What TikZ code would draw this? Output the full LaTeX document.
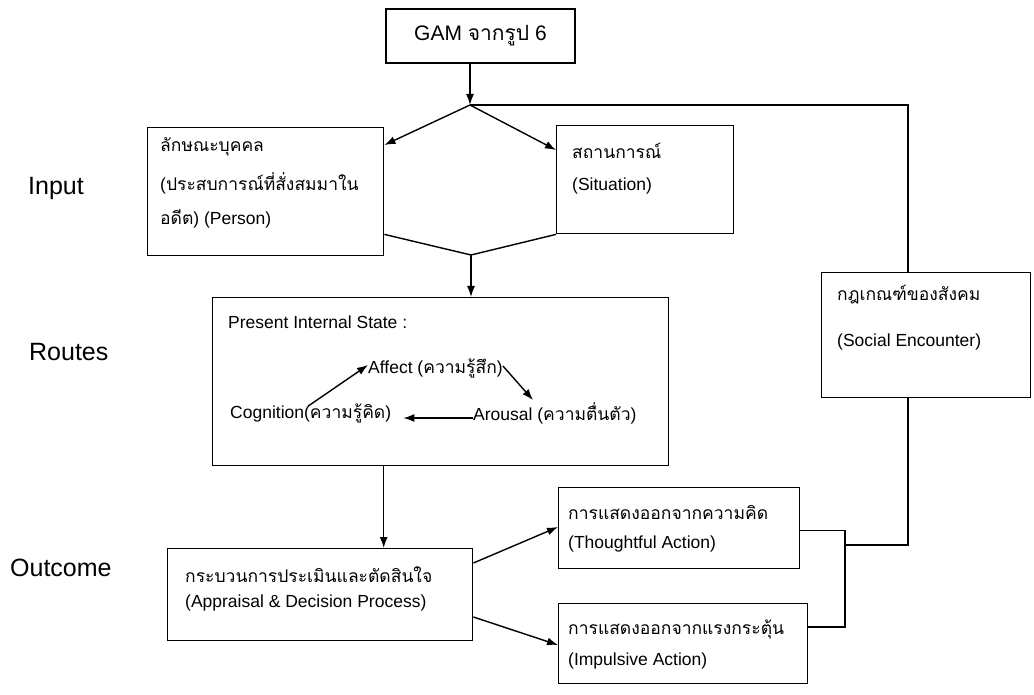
\documentclass[tikz,border=0pt]{standalone}
\usepackage{fontspec}
\setmainfont{Liberation Sans}
\newfontfamily\thaifont[Script=Thai]{Loma}
\newcommand{\tha}[1]{{\thaifont #1}}
\usetikzlibrary{arrows.meta}
\tikzset{
  box/.style={draw, line width=1.4pt, inner sep=0pt, anchor=north west},
  txt/.style={anchor=west, inner sep=0pt, font=\fontsize{17.5}{20}\selectfont},
  lbl/.style={anchor=west, inner sep=0pt, font=\fontsize{25}{28}\selectfont},
  arr/.style={-{Latex[length=11pt,width=8pt]}, line width=1.4pt},
  ln/.style={line width=1.4pt}
}
\begin{document}
\begin{tikzpicture}[x=1pt,y=-1pt]
\useasboundingbox (0,0) rectangle (1034,695);
% stage labels
\node[lbl] (input) at (28,188) {Input};
\node[lbl] (routes) at (29,352) {Routes};
\node[lbl] (outcome) at (10,568) {Outcome};

% boxes
\node[draw, line width=1.4pt, minimum width=189pt, minimum height=54pt,
  font=\fontsize{21}{24}\selectfont] (gam) at (480.5,36) {GAM \tha{จากรูป} 6};
\node[box, minimum width=236pt, minimum height=128pt] (person) at (147,127) {};
\node[box, minimum width=177pt, minimum height=108pt] (sit) at (556,125) {};
\node[box, minimum width=456pt, minimum height=168pt] (present) at (212,297) {};
\node[box, minimum width=209pt, minimum height=125pt] (social) at (821,272) {};
\node[box, minimum width=305pt, minimum height=92pt] (appr) at (167,548) {};
\node[box, minimum width=241pt, minimum height=81pt] (thought) at (558,487) {};
\node[box, minimum width=249pt, minimum height=80pt] (imp) at (558,603) {};

% texts in the boxes
\node[txt] (person1) at (160,147) {\tha{ลักษณะบุคคล}};
\node[txt] (person2) at (160,183) {(\tha{ประสบการณ์ที่สั่งสมมาใน}};
\node[txt] (person3) at (160,219) {\tha{อดีต}) (Person)};
\node[txt] (sit1) at (572,151) {\tha{สถานการณ์}};
\node[txt] (sit2) at (572,186) {(Situation)};
\node[txt] (pis) at (228,322) {Present Internal State :};
\node[txt] (aff) at (368,368) {Affect (\tha{ความรู้สึก})};
\node[txt] (cog) at (230,413) {Cognition(\tha{ความรู้คิด})};
\node[txt] (aro) at (473,413) {Arousal (\tha{ความตื่นตัว})};
\node[txt] (social1) at (837,295) {\tha{กฎเกณฑ์ของสังคม}};
\node[txt] (social2) at (837,342) {(Social Encounter)};
\node[txt] (appr1) at (185,575) {\tha{กระบวนการประเมินและตัดสินใจ}};
\node[txt] (appr2) at (185,603) {(Appraisal \& Decision Process)};
\node[txt] (thought1) at (568,513) {\tha{การแสดงออกจากความคิด}};
\node[txt] (thought2) at (568,544) {(Thoughtful Action)};
\node[txt] (imp1) at (568,629) {\tha{การแสดงออกจากแรงกระตุ้น}};
\node[txt] (imp2) at (568,661) {(Impulsive Action)};

% junctions
\coordinate (split) at (470,105);
\coordinate (merge) at (471,255);
\coordinate (jx) at (845,545);
\coordinate (fb) at (908,545);

% input stage
\draw[arr] (split |- gam.south) -- (split);
\draw[arr] (split) -- ([yshift=-18pt]person.north east);
\draw[arr] (split) -- ([yshift=-25pt]sit.north west);
\draw[ln] ([yshift=22pt]person.south east) -- (merge) -- (sit.south west);
\draw[arr] (merge) -- (merge |- present.north);

% routes
\draw[arr] ([xshift=78pt,yshift=-3pt]cog.north west) -- ([yshift=3pt]aff.west);
\draw[arr] ([yshift=2pt]aff.east) -- ([xshift=60pt,yshift=2pt]aro.north west);
\draw[arr] ([yshift=-5pt]aro.west) -- ([xshift=12pt,yshift=-5pt]cog.east);

% outcome
\draw[arr] ([xshift=-57pt]present.south) -- ([xshift=-57pt]present.south |- appr.north);
\draw[arr] ([yshift=-15pt]appr.north east) -- ([yshift=-40pt]thought.north west);
\draw[arr] ([yshift=-69pt]appr.north east) -- ([yshift=-42pt]imp.north west);
\draw[ln] ([yshift=-2pt]thought.east) -| (jx) |- ([yshift=-24pt]imp.north east);

% feedback through social encounter
\draw[ln] (jx) -- (fb) -- (fb |- social.south);
\draw[ln] (fb |- social.north) |- (split);
\end{tikzpicture}
\end{document}
